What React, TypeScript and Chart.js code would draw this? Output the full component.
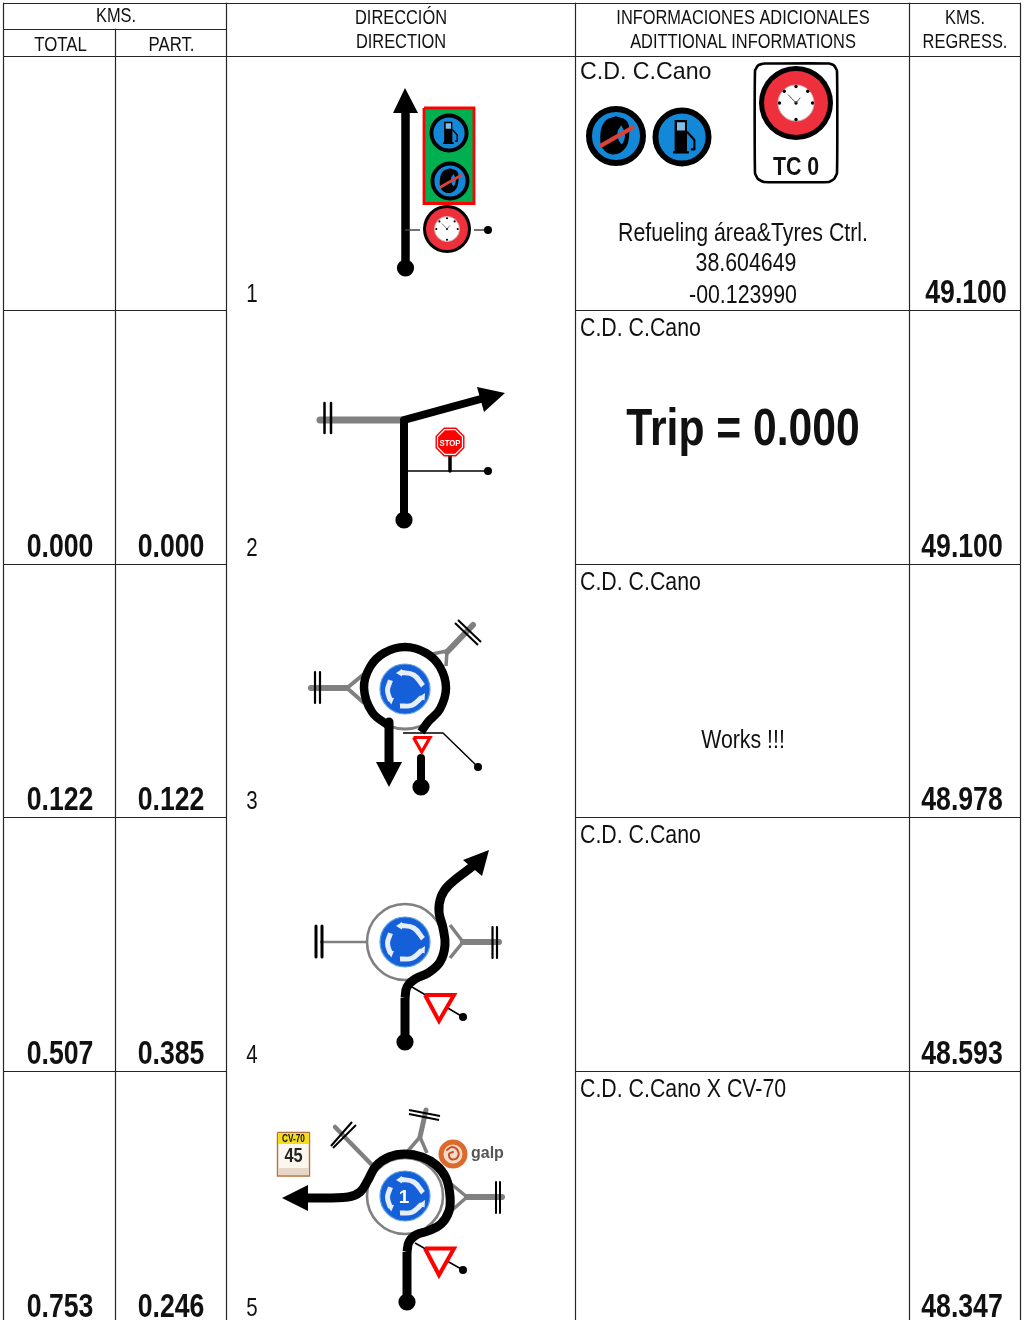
import React, { useEffect, useRef } from "react";
import { Chart, registerables } from "chart.js";

Chart.register(...registerables);

type P = number[];

// ---------- table content ----------
const stepNumbers = ["1", "2", "3", "4", "5"];
const totalKm = ["", "0.000", "0.122", "0.507", "0.753"];
const partKm = ["", "0.000", "0.122", "0.385", "0.246"];
const regressKm = ["49.100", "49.100", "48.978", "48.593", "48.347"];
const placeNotes = ["C.D. C.Cano", "C.D. C.Cano", "C.D. C.Cano", "C.D. C.Cano", "C.D. C.Cano X CV-70"];
const refuelNotes = ["Refueling área&Tyres Ctrl.", "38.604649", "-00.123990"];
const tripNote = "Trip = 0.000";
const worksNote = "Works !!!";
const rowBottoms = [310.5, 564.5, 817.5, 1071.5, 1325];
const colCenters = { total: 60, part: 171, step: 252, regress: 962 };

// ---------- table rules ----------
const ruleSegments: P[][] = [
  [[3, 3.5], [1021, 3.5]],
  [[3, 29.5], [226, 29.5]],
  [[3, 56.5], [1021, 56.5]],
  [[3.5, 3], [3.5, 1320]],
  [[115.5, 29], [115.5, 1320]],
  [[226.5, 3], [226.5, 1320]],
  [[575.5, 3], [575.5, 1320]],
  [[909.5, 3], [909.5, 1320]],
  [[1020.5, 3], [1020.5, 1320]],
  [[3, 310.5], [226, 310.5]],
  [[3, 564.5], [226, 564.5]],
  [[3, 817.5], [226, 817.5]],
  [[3, 1071.5], [226, 1071.5]],
  [[575, 310.5], [1021, 310.5]],
  [[575, 564.5], [1021, 564.5]],
  [[575, 817.5], [1021, 817.5]],
  [[575, 1071.5], [1021, 1071.5]],
];

// ---------- colours ----------
const BLACK = "#000000";
const GRAY = "#808080";
const RED = "#ff0000";
const BLUE_SIGN = "#1560d8";
const BLUE_ICON = "#1488d8";

// ---------- glyph shapes, in units of the icon radius ----------
const arcTop: P[] = [[-0.2, -0.67], [0.35, -0.56], [0.72, -0.13]];
const arcLeft: P[] = [[-0.58, -0.35], [-0.7, 0.05], [-0.58, 0.47]];
const arcBottom: P[] = [[-0.2, 0.68], [0.28, 0.65], [0.67, 0.33]];
const headTop: P[] = [[-0.36, -0.64], [-0.12, -0.8], [-0.12, -0.5], [-0.36, -0.64]];
const headLeft: P[] = [[-0.74, 0.34], [-0.44, 0.36], [-0.55, 0.62], [-0.74, 0.34]];
const headBottom: P[] = [[0.8, 0.16], [0.78, 0.46], [0.54, 0.34], [0.8, 0.16]];
const pumpBody: P[] = [[-0.25, -0.58], [0.17, -0.58], [0.17, 0.48], [0.24, 0.48], [0.24, 0.56], [-0.3, 0.56], [-0.3, 0.48], [-0.25, 0.48], [-0.25, -0.58]];
const pumpWindow: P[] = [[-0.17, -0.5], [0.1, -0.5], [0.1, -0.22], [-0.17, -0.22], [-0.17, -0.5]];
const pumpHose: P[] = [[0.17, -0.18], [0.42, 0.1], [0.42, 0.42], [0.3, 0.42]];
const tyreOuter: P[] = [[0.0, -0.66], [0.36, -0.5], [0.44, -0.05], [0.3, 0.42], [-0.08, 0.62], [-0.44, 0.42], [-0.52, -0.05], [-0.36, -0.5], [0.0, -0.66]];
const tyreInner: P[] = [[0.18, -0.36], [0.3, -0.05], [0.2, 0.26], [0.08, 0.12], [0.06, -0.16], [0.18, -0.36]];
const tyreSlash: P[] = [[-0.5, 0.32], [0.55, -0.28]];
const clockTicks: P[] = [[0, -0.62], [0.44, -0.44], [0.62, 0], [0, 0.62], [-0.62, 0], [-0.44, -0.44], [0, 0]];
const clockHandA: P[] = [[-0.3, -0.32], [0, 0], [0.16, -0.2]];
const octagon: P[] = [[-0.42, -1], [0.42, -1], [1, -0.42], [1, 0.42], [0.42, 1], [-0.42, 1], [-1, 0.42], [-1, -0.42], [-0.42, -1]];
const octagonInner: P[] = octagon.map(([a, b]) => [a * 0.86, b * 0.86]);

// ---------- step 1 ----------
const s1Stem: P[] = [[405.5, 268], [405.5, 108]];
const s1Head: P[] = [[405, 88], [418, 113], [393, 113], [405, 88]];
const s1Box: P[] = [[424, 108], [474, 108], [474, 203.5], [424, 203.5], [424, 108]];
const s1LeaderA: P[] = [[405, 230], [420, 230]];
const s1LeaderB: P[] = [[474, 230], [488, 230]];

// ---------- TC box in the notes column ----------
const tcBox: P[] = [[764, 63.5], [829, 63.5], [834, 65.5], [837, 71], [837, 173], [834, 179], [829, 182], [764, 182], [758, 179], [755, 173], [755, 71], [758, 65.5], [764, 63.5]];

// ---------- step 2 ----------
const s2Side: P[] = [[320, 420], [405, 420]];
const s2TickA: P[] = [[324.5, 403], [324.5, 433]];
const s2TickB: P[] = [[331, 403], [331, 433]];
const s2Route: P[] = [[404, 520], [404, 420], [488, 397]];
const s2Head: P[] = [[505, 393], [484, 412], [477, 387], [505, 393]];
const s2Leader: P[] = [[404, 471], [488, 471]];
const s2Pole: P[] = [[450, 455], [450, 471]];

// ---------- step 3 ----------
const s3RoadL: P[] = [[311, 688], [347, 688]];
const s3ForkL: P[] = [[364, 674], [347, 688], [364, 703]];
const s3TickL1: P[] = [[315, 672], [315, 703]];
const s3TickL2: P[] = [[320, 672], [320, 703]];
const s3RoadR: P[] = [[473, 625], [447, 652]];
const s3ForkR: P[] = [[432, 654], [447, 651], [446, 666]];
const s3TickR1: P[] = [[458, 620], [481, 642]];
const s3TickR2: P[] = [[455, 623], [478, 645]];
const s3Loop: P[] = [[389, 726], [372, 712], [364, 688], [370, 667], [384, 653], [405, 647], [426, 653], [440, 667], [446, 688], [440, 709], [428, 722], [421, 732]];
const s3Exit: P[] = [[389, 722], [389, 765]];
const s3Head: P[] = [[389, 787], [402, 762], [376, 762], [389, 787]];
const s3Tail: P[] = [[421, 758], [421, 787]];
const s3Yield: P[] = [[413.5, 737.5], [430, 737.5], [421.7, 752], [413.5, 737.5]];
const s3Leader: P[] = [[403, 733], [443, 733], [478, 767]];

// ---------- step 4 ----------
const s4RoadL: P[] = [[320, 942], [367, 942]];
const s4TickL1: P[] = [[316, 926], [316, 957]];
const s4TickL2: P[] = [[322, 926], [322, 957]];
const s4RoadR: P[] = [[499, 942], [463, 942]];
const s4ForkR: P[] = [[450, 925], [463, 942], [450, 958]];
const s4TickR1: P[] = [[492.5, 927], [492.5, 958]];
const s4TickR2: P[] = [[497, 927], [497, 958]];
const s4RouteStem: P[] = [[405, 1042], [405, 998]];
const s4Route: P[] = [[405, 998], [407, 987], [415, 979], [428, 973], [440, 962], [445, 945], [443, 928], [439, 912], [441, 897], [449, 885], [473, 866]];
const s4Head: P[] = [[489, 850], [482, 876], [463, 860], [489, 850]];
const s4Leader: P[] = [[412, 987], [463, 1017]];
const s4Yield: P[] = [[425, 995], [454, 995], [439, 1021], [425, 995]];

// ---------- step 5 ----------
const s5RoadR: P[] = [[502, 1197], [467, 1197]];
const s5ForkR: P[] = [[450, 1183], [467, 1197], [450, 1212]];
const s5TickR1: P[] = [[496, 1182], [496, 1213]];
const s5TickR2: P[] = [[500, 1182], [500, 1213]];
const s5RoadUL: P[] = [[335, 1127], [372, 1165]];
const s5TickUL1: P[] = [[331, 1146], [352, 1122]];
const s5TickUL2: P[] = [[333, 1148], [356, 1125]];
const s5RoadUp: P[] = [[426, 1110], [420, 1137]];
const s5ForkUp: P[] = [[407, 1152], [420, 1137], [427, 1153]];
const s5TickUp1: P[] = [[409, 1110], [440, 1116]];
const s5TickUp2: P[] = [[409, 1114], [439, 1120]];
const s5RouteStem: P[] = [[407, 1302], [407, 1252]];
const s5Route: P[] = [[407, 1252], [409, 1242], [416, 1235], [428, 1231], [441, 1224], [449, 1211], [450, 1196], [446, 1178], [436, 1165], [422, 1157], [405, 1154], [389, 1157], [376, 1166], [368, 1180], [360, 1192], [348, 1197], [305, 1198]];
const s5Head: P[] = [[282, 1198], [308, 1211], [308, 1185], [282, 1198]];
const s5Leader: P[] = [[415, 1243], [463, 1270]];
const s5Yield: P[] = [[425, 1248.5], [454, 1248.5], [439, 1275], [425, 1248.5]];
const plateBody: P[] = [[277.5, 1132.5], [309.5, 1132.5], [309.5, 1176], [277.5, 1176], [277.5, 1132.5]];
const plateBand: P[] = [[278, 1133], [309, 1133], [309, 1144], [278, 1144], [278, 1133]];
const plateFoot: P[] = [[279, 1168], [308, 1168], [308, 1175], [279, 1175], [279, 1168]];
const galpSwirl: P[] = [[447, 1150], [452, 1147], [458, 1151], [457, 1158], [451, 1159], [449, 1154], [453, 1152]];

// ---------- dataset helpers ----------
const sets: any[] = [];
const xy = (pts: P[]) => pts.map(([x, y]) => ({ x, y }));

function stroke(pts: P[], color: string, width: number, cap: CanvasLineCap = "butt", tension = 0, join: CanvasLineJoin = "round") {
  sets.push({
    data: xy(pts), showLine: true, borderColor: color, borderWidth: width, borderCapStyle: cap,
    borderJoinStyle: join, tension, capBezierPoints: false, pointRadius: 0, fill: false,
  });
}
function shape(pts: P[], fillColor: string, color = fillColor, width = 0, join: CanvasLineJoin = "miter", tension = 0) {
  sets.push({
    data: xy(pts), showLine: true, backgroundColor: fillColor, borderColor: color, borderWidth: width,
    borderJoinStyle: join, tension, capBezierPoints: false, pointRadius: 0, fill: "shape",
  });
}
function disc(x: number, y: number, r: number, fillColor: string, color = fillColor, width = 0) {
  sets.push({
    data: [{ x, y }], showLine: false, pointStyle: "circle", pointRadius: r,
    backgroundColor: fillColor, borderColor: color, borderWidth: width,
  });
}
const place = (pts: P[], cx: number, cy: number, r: number): P[] => pts.map(([a, b]) => [cx + a * r, cy + b * r]);

function roundaboutSign(cx: number, cy: number, r: number) {
  disc(cx, cy, r, BLUE_SIGN, "#5aa0e0", 1.2);
  for (const arc of [arcTop, arcLeft, arcBottom]) stroke(place(arc, cx, cy, r), "#e6eefa", r * 0.2, "butt", 0.4);
  for (const head of [headTop, headLeft, headBottom]) shape(place(head, cx, cy, r), "#e6eefa");
}
function pumpIcon(cx: number, cy: number, r: number) {
  disc(cx, cy, r - r * 0.1, BLUE_ICON, BLACK, r * 0.2);
  shape(place(pumpBody, cx, cy, r), BLACK);
  shape(place(pumpWindow, cx, cy, r), "#7ec0ea");
  stroke(place(pumpHose, cx, cy, r), BLACK, r * 0.07);
}
function tyreIcon(cx: number, cy: number, r: number) {
  disc(cx, cy, r - r * 0.1, BLUE_ICON, BLACK, r * 0.2);
  shape(place(tyreOuter, cx, cy, r), BLACK, BLACK, 0, "round", 0.4);
  shape(place(tyreInner, cx, cy, r), BLUE_ICON, BLUE_ICON, 0, "round", 0.4);
  stroke(place(tyreSlash, cx, cy, r), "#d8423a", r * 0.14, "round");
}
function clockIcon(cx: number, cy: number, r: number, ring: number, face: number) {
  disc(cx, cy, r, BLACK);
  disc(cx, cy, ring, "#ee2f3c");
  disc(cx, cy, face, "#ffffff", "#c8b8b0", 1);
  for (const [a, b] of clockTicks) disc(cx + a * r * 0.72, cy + b * r * 0.72, Math.max(1, r * 0.045), BLACK);
  stroke(place(clockHandA, cx, cy, r * 0.72), "#444444", Math.max(0.7, r * 0.025));
}
const startDot = (p: P) => disc(p[0], p[1], 8.6, BLACK);
const tipDot = (p: P) => disc(p[0], p[1], 4, BLACK);

// ---------- build all marks, back to front ----------
for (const seg of ruleSegments) stroke(seg, "#262626", 1.2);

// step 1
stroke(s1Stem, BLACK, 8.5);
shape(s1Head, BLACK);
startDot(s1Stem[0]);
shape(s1Box, "#00b050", RED, 2.8);
pumpIcon(449, 133, 19.5);
tyreIcon(450, 181, 19.5);
stroke(s1LeaderA, "#444444", 1.5);
stroke(s1LeaderB, "#444444", 1.5);
tipDot(s1LeaderB[1]);
clockIcon(447, 229, 24, 21, 12.5);

// notes icons row 1
tyreIcon(616, 136, 30);
pumpIcon(682, 137, 29.5);
stroke(tcBox, BLACK, 2.6, "butt", 0.15);
clockIcon(796, 103, 37, 32, 18);

// step 2
stroke(s2Side, GRAY, 7, "round");
stroke(s2TickA, BLACK, 2.5);
stroke(s2TickB, BLACK, 2.5);
stroke(s2Leader, BLACK, 1.5);
tipDot(s2Leader[1]);
stroke(s2Pole, BLACK, 3.5);
stroke(s2Route, BLACK, 8, "butt", 0, "round");
shape(s2Head, BLACK);
startDot(s2Route[0]);
shape(place(octagon, 450, 442, 14.5), RED);
shape(place(octagonInner, 450, 442, 14.5), RED, "#ffffff", 1.2);

// step 3
stroke(s3RoadL, GRAY, 6, "round");
stroke(s3ForkL, GRAY, 4);
stroke(s3TickL1, BLACK, 2.2);
stroke(s3TickL2, BLACK, 2.2);
stroke(s3RoadR, GRAY, 6, "round");
stroke(s3ForkR, GRAY, 3.5);
stroke(s3TickR1, BLACK, 2);
stroke(s3TickR2, BLACK, 2);
disc(405, 688, 41, "#ffffff", GRAY, 3);
stroke(s3Loop, BLACK, 8.5, "butt", 0.4);
stroke(s3Exit, BLACK, 9);
shape(s3Head, BLACK);
stroke(s3Tail, BLACK, 8);
startDot(s3Tail[1]);
stroke(s3Leader, BLACK, 1.5);
tipDot(s3Leader[2]);
shape(s3Yield, "#ffffff", RED, 3.2);
roundaboutSign(405, 689, 25);

// step 4
stroke(s4RoadL, GRAY, 2.5);
stroke(s4TickL1, BLACK, 3);
stroke(s4TickL2, BLACK, 3);
stroke(s4RoadR, GRAY, 6, "round");
stroke(s4ForkR, GRAY, 3.5);
stroke(s4TickR1, BLACK, 2.2);
stroke(s4TickR2, BLACK, 2.2);
disc(405, 942, 38, "#ffffff", GRAY, 2.6);
stroke(s4RouteStem, BLACK, 9);
stroke(s4Route, BLACK, 9, "butt", 0.4);
shape(s4Head, BLACK);
startDot(s4RouteStem[0]);
stroke(s4Leader, BLACK, 1.5);
tipDot(s4Leader[1]);
shape(s4Yield, "#ffffff", RED, 4);
roundaboutSign(405, 942, 25);

// step 5
stroke(s5RoadR, GRAY, 6, "round");
stroke(s5ForkR, GRAY, 3.5);
stroke(s5TickR1, BLACK, 2);
stroke(s5TickR2, BLACK, 2);
stroke(s5RoadUL, GRAY, 4.5, "round");
stroke(s5TickUL1, BLACK, 2);
stroke(s5TickUL2, BLACK, 2);
stroke(s5RoadUp, GRAY, 5, "round");
stroke(s5ForkUp, GRAY, 3.5);
stroke(s5TickUp1, BLACK, 2);
stroke(s5TickUp2, BLACK, 2);
disc(405, 1196, 38, "#ffffff", GRAY, 2.6);
stroke(s5RouteStem, BLACK, 9);
stroke(s5Route, BLACK, 9, "butt", 0.4);
shape(s5Head, BLACK);
startDot(s5RouteStem[0]);
stroke(s5Leader, BLACK, 1.5);
tipDot(s5Leader[1]);
shape(s5Yield, "#ffffff", RED, 4);
roundaboutSign(405, 1196, 25);
shape(plateBody, "#fbf7ee", "#b5713a", 1.4);
shape(plateBand, "#f6dc1e");
shape(plateFoot, "#e6d6c8");
disc(453, 1154, 12, "#f4dcc8", "#dc6a2c", 5);
stroke(galpSwirl, "#c8502a", 2, "round", 0.4);

sets.forEach((d, i) => { d.order = -i; });

// ---------- text ----------
const SANS = '"Liberation Sans"';
const NARROW_X = 0.82;
type T = { t: string; x: number; y: number; f: string; c?: string; a?: CanvasTextAlign; wide?: boolean };
const texts: T[] = [
  { t: "KMS.", x: 116, y: 22, f: `20px ${SANS}` },
  { t: "TOTAL", x: 60.5, y: 51, f: `20.5px ${SANS}` },
  { t: "PART.", x: 171.5, y: 51, f: `20.5px ${SANS}` },
  { t: "DIRECCIÓN", x: 401, y: 24, f: `20px ${SANS}` },
  { t: "DIRECTION", x: 401, y: 48, f: `20px ${SANS}` },
  { t: "INFORMACIONES ADICIONALES", x: 743, y: 24, f: `20px ${SANS}` },
  { t: "ADITTIONAL INFORMATIONS", x: 743, y: 48, f: `20px ${SANS}` },
  { t: "KMS.", x: 965, y: 24, f: `20px ${SANS}` },
  { t: "REGRESS.", x: 965, y: 48, f: `20px ${SANS}` },
  { t: refuelNotes[0], x: 743, y: 241, f: `26px ${SANS}` },
  { t: refuelNotes[1], x: 746, y: 271, f: `26px ${SANS}` },
  { t: refuelNotes[2], x: 743, y: 303, f: `26px ${SANS}` },
  { t: tripNote, x: 743, y: 445, f: `bold 52px ${SANS}` },
  { t: worksNote, x: 743, y: 748, f: `26px ${SANS}` },
  { t: "TC 0", x: 796, y: 175, f: `bold 26px ${SANS}` },
  { t: "STOP", x: 450, y: 446, f: `bold 9.5px ${SANS}`, c: "#ffffff" },
  { t: "1", x: 404, y: 1203, f: `bold 19px ${SANS}`, c: "#ffffff", wide: true },
  { t: "CV-70", x: 293.5, y: 1142, f: `bold 10px ${SANS}` },
  { t: "45", x: 293.5, y: 1162, f: `bold 20px ${SANS}`, c: "#222222" },
  { t: "galp", x: 471, y: 1158, f: `bold 16px ${SANS}`, c: "#555555", a: "left", wide: true },
];
stepNumbers.forEach((s, i) => {
  texts.push({ t: s, x: colCenters.step, y: rowBottoms[i] - 9, f: `25px ${SANS}` });
  texts.push({ t: totalKm[i], x: colCenters.total, y: rowBottoms[i] - 8, f: `bold 32.5px ${SANS}` });
  texts.push({ t: partKm[i], x: colCenters.part, y: rowBottoms[i] - 8, f: `bold 32.5px ${SANS}` });
  texts.push({ t: regressKm[i], x: i === 0 ? 966 : colCenters.regress, y: rowBottoms[i] - 8, f: `bold 32.5px ${SANS}` });
  texts.push({
    t: placeNotes[i], x: 580, y: (i === 0 ? 57 : rowBottoms[i - 1]) + (i === 0 ? 22 : 25),
    f: i === 0 ? `23.2px ${SANS}` : `26px ${SANS}`, a: "left", wide: i === 0,
  });
});

const textPlugin = {
  id: "roadbookText",
  afterDraw(chart: any) {
    const { ctx, scales } = chart;
    ctx.save();
    ctx.textBaseline = "alphabetic";
    for (const item of texts) {
      ctx.save();
      ctx.font = item.f;
      ctx.fillStyle = item.c ?? "#111111";
      ctx.textAlign = item.a ?? "center";
      ctx.translate(scales.x.getPixelForValue(item.x), scales.y.getPixelForValue(item.y));
      ctx.scale(item.wide ? 1 : NARROW_X, 1);
      ctx.fillText(item.t, 0, 0);
      ctx.restore();
    }
    ctx.restore();
  },
};

export default function App() {
  const ref = useRef<HTMLCanvasElement>(null);
  useEffect(() => {
    document.body.style.margin = "0";
    document.body.style.background = "#ffffff";
    const chart = new Chart(ref.current as HTMLCanvasElement, {
      type: "scatter",
      data: { datasets: sets },
      plugins: [textPlugin],
      options: {
        animation: false,
        responsive: false,
        events: [],
        clip: false,
        layout: { padding: 0, autoPadding: false },
        scales: {
          x: { type: "linear", min: 0, max: 1025, display: false },
          y: { type: "linear", min: 0, max: 1320, reverse: true, display: false },
        },
        plugins: {
          legend: { display: false },
          tooltip: { enabled: false },
          filler: { drawTime: "beforeDatasetDraw" },
        },
      },
    } as any);
    return () => chart.destroy();
  }, []);
  return <canvas ref={ref} width={1025} height={1320} style={{ display: "block" }} />;
}
